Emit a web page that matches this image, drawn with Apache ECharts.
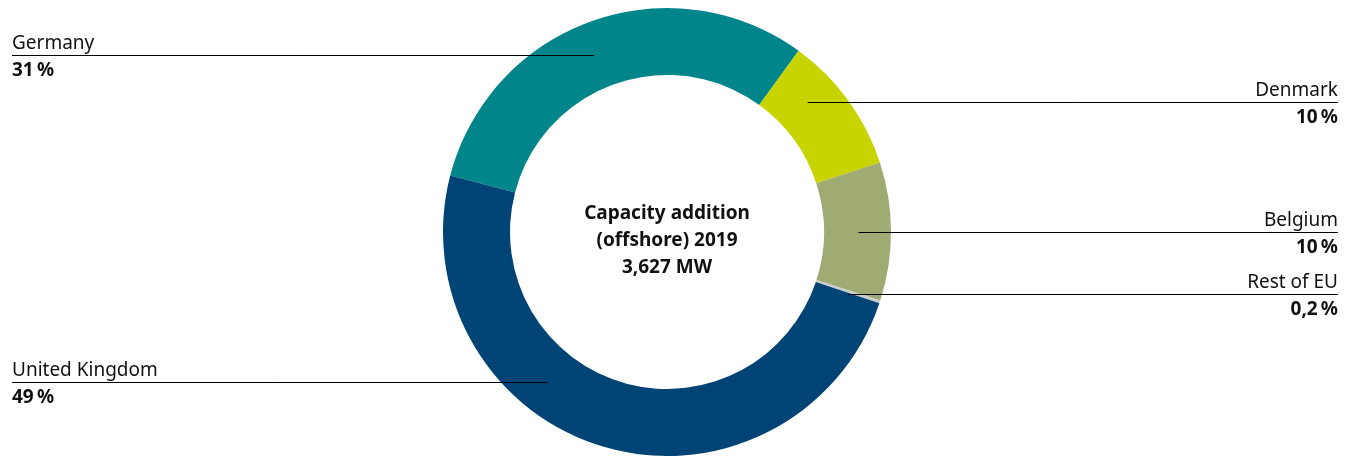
<!DOCTYPE html>
<html>
<head>
<meta charset="utf-8">
<script src="https://cdn.jsdelivr.net/npm/echarts@6/dist/echarts.min.js"></script>
<style>
  html, body { margin: 0; padding: 0; background: #ffffff; }
  #chart { width: 1352px; height: 457px; }
</style>
</head>
<body>
<div id="chart"></div>
<script>
// Offshore wind capacity added in the EU in 2019, share by country (%)
const countries = ['Germany', 'Denmark', 'Belgium', 'Rest of EU', 'United Kingdom'];
const shares = [31, 10, 10, 0.2, 49];
const centerTitle = ['Capacity addition', '(offshore) 2019', '3,627 MW'];

// Presentation: slice colours, label sides and label line heights
const colors = ['#00858a', '#c8d400', '#a0ab74', '#c9cbcc', '#004375'];
const labelSide = ['left', 'right', 'right', 'right', 'left'];
const labelLineY = [55, 102, 232, 294, 382];

const CX = 667, CY = 232, R_IN = 157, R_OUT = 224;
const R_MID = (R_IN + R_OUT) / 2 + 1;
const LEFT_X = 12, RIGHT_X = 1338;
const FONT = '"Noto Sans", "Open Sans", sans-serif';
const FS = 19;

const chart = echarts.init(document.getElementById('chart'), null, { renderer: 'canvas' });

const fmtPct = v => String(v).replace('.', ',') + '\u202f%';

const pieBase = {
  type: 'pie',
  center: [CX, CY],
  radius: [R_IN, R_OUT],
  startAngle: 165.4,
  clockwise: true,
  avoidLabelOverlap: false,
  silent: true
};

chart.setOption({
  animation: false,
  backgroundColor: '#ffffff',
  graphic: [{
    type: 'text',
    z: 10,
    style: {
      x: CX,
      y: CY + 9,
      text: centerTitle.join('\n'),
      font: 'bold ' + FS + 'px ' + FONT,
      fill: '#111111',
      align: 'center',
      verticalAlign: 'middle',
      lineHeight: 27
    }
  }],
  series: [
    // The coloured ring
    Object.assign({}, pieBase, {
      z: 2,
      label: { show: false },
      labelLine: { show: false },
      itemStyle: { borderWidth: 0 },
      data: countries.map((c, i) => ({
        name: c,
        value: shares[i],
        itemStyle: { color: colors[i] }
      }))
    }),
    // Same ring, transparent, carrying the labels and leader lines on top
    Object.assign({}, pieBase, {
      z: 3,
      itemStyle: { color: 'rgba(0,0,0,0)', borderWidth: 0 },
      label: {
        show: true,
        position: 'outside',
        formatter: p => '{n|' + p.name + '}\n{v|' + fmtPct(p.value) + '}',
        rich: {
          n: { fontFamily: FONT, fontSize: FS, color: '#111111', lineHeight: 27 },
          v: { fontFamily: FONT, fontSize: FS, fontWeight: 'bold', color: '#111111', lineHeight: 27 }
        }
      },
      labelLine: {
        show: true,
        smooth: false,
        lineStyle: { color: '#000000', width: 1, opacity: 1 }
      },
      labelLayout: function (p) {
        const i = p.dataIndex;
        const y = labelLineY[i];
        const ly = y + 0.5;
        const dy = y - CY;
        const dx = Math.sqrt(Math.max(0, R_MID * R_MID - dy * dy));
        const left = labelSide[i] === 'left';
        const endX = left ? CX - dx : CX + dx;
        const textX = left ? LEFT_X : RIGHT_X;
        return {
          x: textX,
          y: y + 2,
          align: left ? 'left' : 'right',
          verticalAlign: 'middle',
          labelLinePoints: [[endX, ly], [endX, ly], [textX, ly]]
        };
      },
      data: countries.map((c, i) => ({ name: c, value: shares[i] }))
    })
  ]
});
</script>
</body>
</html>
